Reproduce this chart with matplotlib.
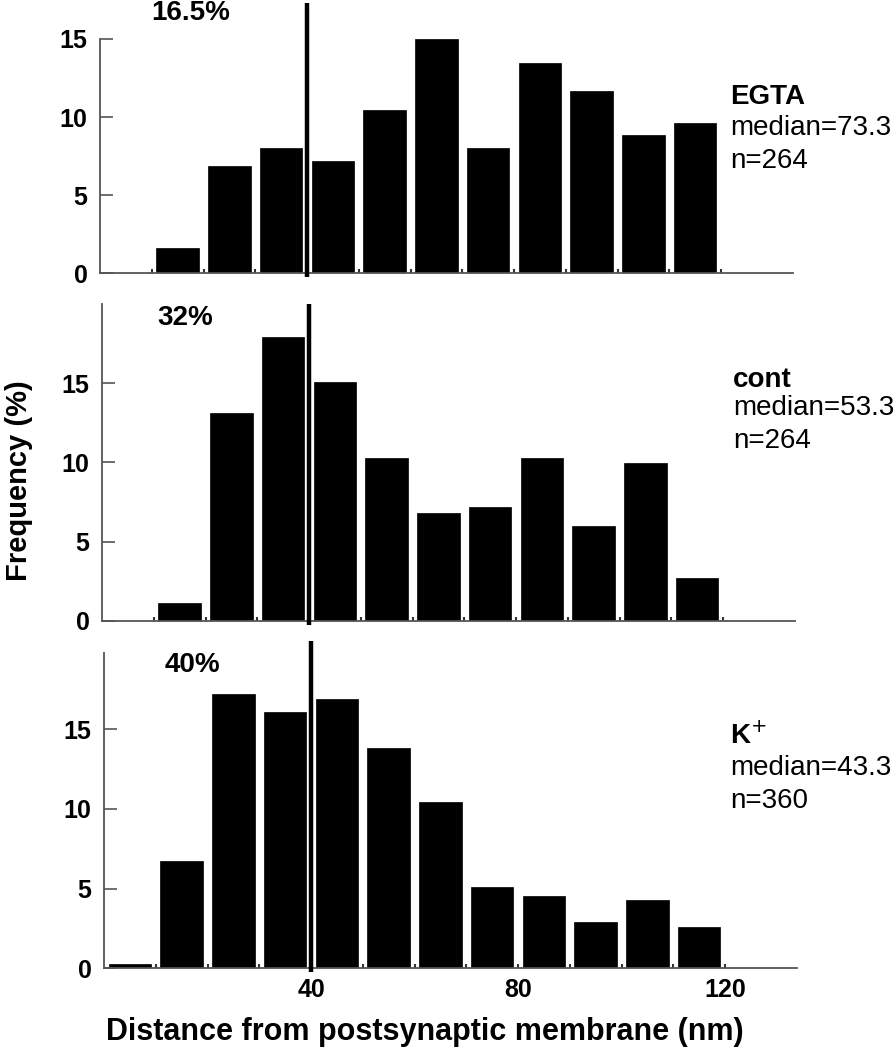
import matplotlib
matplotlib.use("Agg")
import matplotlib.pyplot as plt

plt.rcParams['font.family'] = ['Liberation Sans', 'DejaVu Sans']

# ---- data ----
bin_centers = [5, 15, 25, 35, 45, 55, 65, 75, 85, 95, 105, 115]
egta = [0, 1.6, 6.85, 8.05, 7.2, 10.45, 15.0, 8.05, 13.45, 11.7, 8.85, 9.6]
cont = [0, 1.1, 13.1, 17.9, 15.1, 10.3, 6.8, 7.15, 10.3, 5.95, 9.95, 2.7]
kplus = [0.3, 6.75, 17.2, 16.1, 16.9, 13.8, 10.4, 5.1, 4.55, 2.9, 4.3, 2.6]
series = [egta, cont, kplus]
pct_labels = ["16.5%", "32%", "40%"]
cond_names = ["EGTA", "cont", "K$^{+}$"]
medians = ["median=73.3", "median=53.3", "median=43.3"]
ns = ["n=264", "n=264", "n=360"]
threshold = 40
yticks = [0, 5, 10, 15]
xticks_minor = list(range(10, 130, 10))
xtick_labels = [40, 80, 120]

W, H = 896, 1051
fig = plt.figure(figsize=(W / 100, H / 100), dpi=100)
fig.patch.set_facecolor('white')

# panel geometry in pixels: left, bottom, top, ylim top
geo = [
    (100, 273.3, 39.0, 15.0),
    (102, 620.7, 304.0, 20.0),
    (104, 968.3, 652.5, 19.8),
]
xmax = 134
px_per_nm = 5.175
line_tops = [17.3, 20.0, 20.5]
pct_pos = [(17.6, 16.65), (16.0, 19.1), (17.1, 19.0)]
label_base = [(730, 104, 135, 168), (733, 387, 415, 448), (730, 744, 775, 808)]

for i, (left, bot, top, ytop) in enumerate(geo):
    width = xmax * px_per_nm
    ax = fig.add_axes([left / W, 1 - bot / H, width / W, (bot - top) / H])
    ax.bar(bin_centers, series[i], width=8.2, color='black', edgecolor='black', linewidth=0.5)
    ax.set_xlim(0, xmax)
    ax.set_ylim(0, ytop)
    for s in ['top', 'right']:
        ax.spines[s].set_visible(False)
    for s in ['left', 'bottom']:
        ax.spines[s].set_color('#555555')
        ax.spines[s].set_linewidth(1.3)
    ax.set_yticks(yticks)
    ax.set_yticklabels([str(t) for t in yticks], fontsize=18, fontweight='bold')
    ax.tick_params(axis='y', direction='in', length=9, width=1.2, color='#555555', pad=9)
    ax.set_xticks(xticks_minor)
    if i == 2:
        ax.set_xticklabels([str(t) if t in xtick_labels else '' for t in xticks_minor],
                           fontsize=18, fontweight='bold')
    else:
        ax.set_xticklabels([])
    ax.tick_params(axis='x', direction='in', length=3, width=1.5, color='#333333', pad=7)
    ax.plot([threshold, threshold], [-0.25, line_tops[i]], color='black', lw=3.2,
            clip_on=False, solid_capstyle='butt', zorder=5)
    ax.text(pct_pos[i][0], pct_pos[i][1], pct_labels[i], fontsize=20, fontweight='bold',
            ha='center', va='center', clip_on=False)
    lx, b1, b2, b3 = label_base[i]
    fig.text(lx / W, 1 - b1 / H, cond_names[i], fontsize=20, fontweight='bold',
             ha='left', va='baseline')
    fig.text(lx / W, 1 - b2 / H, medians[i], fontsize=20, ha='left', va='baseline')
    fig.text(lx / W, 1 - b3 / H, ns[i], fontsize=20, ha='left', va='baseline')

fig.text(19 / W, 1 - 481 / H, "Frequency (%)", rotation=90, fontsize=21, fontweight='bold',
         ha='center', va='center')
fig.text(425 / W, 1 - 1040 / H, "Distance from postsynaptic membrane (nm)", fontsize=22,
         fontweight='bold', ha='center', va='baseline')

fig.savefig("out.png", dpi=100, facecolor='white')
